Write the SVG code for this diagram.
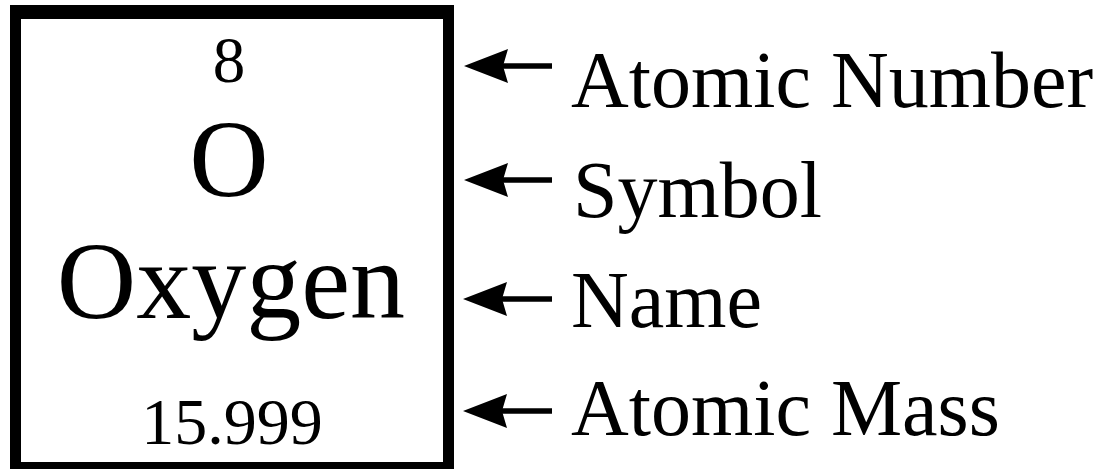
<svg xmlns="http://www.w3.org/2000/svg" width="1113" height="469" viewBox="0 0 1113 469">
<style>
.cell{font-family:"Liberation Serif","Times New Roman",serif;fill:#000;text-anchor:middle}
.lbl{font-family:"Liberation Serif","Times New Roman",serif;font-size:80px;fill:#000}
.conn{stroke:#000;stroke-width:5.5;fill:none}
</style>
<defs>
<marker id="ah" markerUnits="userSpaceOnUse" viewBox="0 0 44 34" refX="8" refY="17" markerWidth="44" markerHeight="34" orient="auto">
<path d="M0,0 L44,17 L0,34 L5,17 Z" fill="#000"/>
</marker>
</defs>
<rect width="1113" height="469" fill="#fff"/>
<g id="element">
<path d="M10,5 H454 V475 H10 Z M21,19 V462 H443 V19 Z" fill="#000" fill-rule="evenodd"/>
<text class="cell" x="229" y="82" font-size="65">8</text>
<text class="cell" x="229" y="196" font-size="110">O</text>
<text class="cell" x="231" y="318" font-size="110">Oxygen</text>
<text class="cell" x="232" y="444" font-size="66">15.999</text>
</g>
<g id="label-atomic-number"><text class="lbl" x="571" y="107">Atomic Number</text></g>
<g id="label-symbol"><text class="lbl" x="573" y="217">Symbol</text></g>
<g id="label-name"><text class="lbl" x="571" y="327">Name</text></g>
<g id="label-atomic-mass"><text class="lbl" x="571" y="435">Atomic Mass</text></g>
<g id="connectors">
<line class="conn" x1="552" y1="66" x2="500" y2="66" marker-end="url(#ah)"/>
<line class="conn" x1="552" y1="180" x2="500" y2="180" marker-end="url(#ah)"/>
<line class="conn" x1="552" y1="299" x2="499" y2="299" marker-end="url(#ah)"/>
<line class="conn" x1="552" y1="411" x2="499" y2="411" marker-end="url(#ah)"/>
</g>
</svg>
